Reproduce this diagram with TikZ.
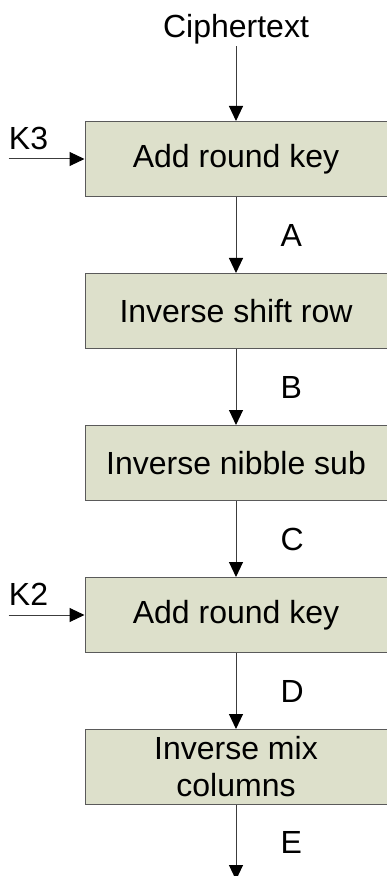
\documentclass[tikz,border=0pt]{standalone}
\usepackage{fontspec}
\setmainfont{Liberation Sans}
\usetikzlibrary{positioning, arrows.meta}
\definecolor{boxfill}{RGB}{221,224,203}
\definecolor{boxline}{RGB}{90,90,90}
\definecolor{arrline}{RGB}{60,60,60}

\begin{document}
\begin{tikzpicture}[
    font=\fontsize{16}{18.5}\selectfont,
    node distance=38pt,
    stage/.style={draw=boxline, fill=boxfill, line width=0.5pt, minimum width=151pt,
        minimum height=37.5pt, inner sep=2pt, align=center},
    flow/.style={draw=arrline, line width=0.5pt,
        -{Triangle[width=7pt,length=7.5pt,color=black]}},
    lbl/.style={right=22pt, inner sep=0pt},
    key/.style={anchor=south west, inner sep=0pt, yshift=4.4pt}
]
    \useasboundingbox (0,0) rectangle (193pt,-438pt);

    \node[inner sep=1pt] (ct) at (118pt,-14.4pt) {Ciphertext};
    \node[stage, anchor=north] (0) at (118pt,-60.5pt) {Add round key};
    \node[stage, below=of 0] (1) {Inverse shift row};
    \node[stage, below=of 1] (2) {Inverse nibble sub};
    \node[stage, below=of 2] (3) {Add round key};
    \node[stage, below=of 3] (4) {Inverse mix\\columns};

    \coordinate[left=38pt of 0.west] (k3);
    \coordinate[left=38pt of 3.west] (k2);
    \coordinate[below=37.5pt of 4.south] (out);

    \draw[flow] (ct) -- (0);
    \draw[flow] (k3) node[key] (k3lbl) {K3} -- (0);
    \draw[flow] (0) -- node[lbl] (a) {A} (1);
    \draw[flow] (1) -- node[lbl] (b) {B} (2);
    \draw[flow] (2) -- node[lbl] (c) {C} (3);
    \draw[flow] (k2) node[key] (k2lbl) {K2} -- (3);
    \draw[flow] (3) -- node[lbl] (d) {D} (4);
    \draw[flow] (4.south) -- node[lbl] (e) {E} (out);
\end{tikzpicture}
\end{document}
